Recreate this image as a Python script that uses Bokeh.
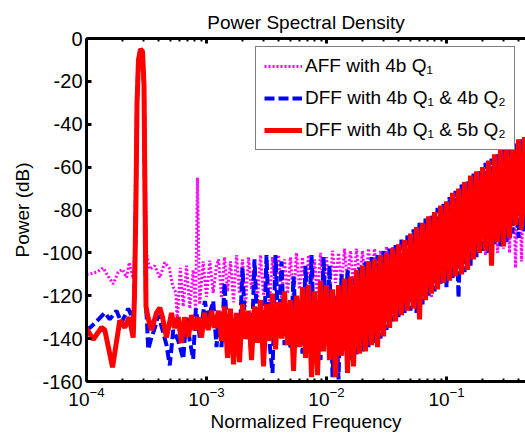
import numpy as np
from bokeh.plotting import figure
from bokeh.models import LogAxis, FixedTicker, Legend, LegendItem
from bokeh.embed import file_html
from bokeh.resources import INLINE

FONT = "Liberation Sans"

# ---------------- data ----------------
TITLE = "Power Spectral Density"
X_LABEL = "Normalized Frequency"
Y_LABEL = "Power (dB)"
Y_TICKS = [-160, -140, -120, -100, -80, -60, -40, -20, 0]
X_TICKS = [1e-4, 1e-3, 1e-2, 1e-1]
LABELS = ["AFF with 4b Q\u2081",
          "DFF with 4b Q\u2081 & 4b Q\u2082",
          "DFF with 4b Q\u2081 & 5b Q\u2082"]

# low-frequency part (individual points)
AFF_F_LOW = [1.000e-4, 1.101e-4, 1.212e-4, 1.377e-4, 1.517e-4, 1.669e-4, 1.837e-4, 1.995e-4,
             2.154e-4, 2.270e-4, 2.450e-4, 2.512e-4, 2.560e-4, 2.636e-4, 2.712e-4, 2.818e-4,
             2.929e-4, 3.014e-4, 3.090e-4, 3.160e-4, 3.370e-4, 3.710e-4, 4.080e-4, 4.490e-4,
             4.890e-4, 5.210e-4, 5.550e-4, 5.700e-4, 6.050e-4, 6.400e-4, 6.810e-4, 7.260e-4,
             7.740e-4, 8.100e-4, 8.410e-4, 8.750e-4, 9.390e-4, 1.000e-3, 1.065e-3, 1.137e-3,
             1.212e-3]
AFF_DB_LOW = [-110, -109.6, -109, -107, -111, -114.5, -109, -107.7,
              -111.5, -104.5, -112, -100, -60, -28, -10, -5,
              -6, -22, -60, -100, -107.7, -106, -111.5, -104.5,
              -107, -115, -118.7, -132, -107, -125, -106, -126,
              -108, -127, -65, -124, -104, -120.5, -103.6, -118.7,
              -106]

DFF4_F_LOW = [1.000e-4, 1.101e-4, 1.212e-4, 1.421e-4, 1.563e-4, 1.778e-4, 1.957e-4, 2.226e-4,
              2.450e-4, 2.512e-4, 2.585e-4, 2.636e-4, 2.712e-4, 2.818e-4, 2.929e-4, 3.014e-4,
              3.073e-4, 3.133e-4, 3.200e-4, 3.268e-4, 3.480e-4, 3.710e-4, 3.960e-4, 4.300e-4,
              4.640e-4, 4.940e-4, 5.280e-4, 5.810e-4, 6.400e-4, 6.810e-4, 7.260e-4, 7.740e-4,
              8.150e-4, 8.800e-4, 9.680e-4, 1.033e-3, 1.137e-3, 1.212e-3]
DFF4_DB_LOW = [-136, -134.3, -132, -128, -131, -127, -132.6, -126,
               -131, -118, -72, -30, -10, -5, -6, -22,
               -75, -125, -133.5, -145, -139.5, -135, -129, -136,
               -143, -152.5, -136, -141, -149.5, -129.6, -141, -149.5,
               -126, -139.5, -122.5, -131, -122.5, -144]

DFF5_F_LOW = [1.000e-4, 1.137e-4, 1.334e-4, 1.421e-4, 1.647e-4, 1.895e-4, 2.086e-4, 2.270e-4,
              2.450e-4, 2.512e-4, 2.585e-4, 2.636e-4, 2.712e-4, 2.818e-4, 2.929e-4, 3.014e-4,
              3.073e-4, 3.133e-4, 3.268e-4, 3.480e-4, 3.830e-4, 4.080e-4, 4.300e-4, 4.640e-4,
              5.110e-4, 5.410e-4, 5.810e-4, 6.190e-4, 6.560e-4, 7.080e-4, 7.500e-4, 7.990e-4,
              8.500e-4, 9.080e-4, 9.620e-4, 1.033e-3, 1.101e-3, 1.166e-3]
DFF5_DB_LOW = [-135.3, -140.4, -134.8, -136, -153.4, -131.5, -134.8, -130,
               -139.5, -120, -75, -30, -10, -5, -6, -22,
               -75, -125, -130.6, -136, -128, -125.6, -130, -139.5,
               -128, -135, -130, -142, -130, -139, -129, -136,
               -130, -139.5, -128, -136, -127, -135]

# dense part: peaks and troughs read on an even log-frequency sampling (1.26e-3 .. 0.5)
DENSE_LOG10_START, DENSE_LOG10_STOP, DENSE_N = -2.9, -0.3, 105

AFF_DB_DENSE = [-103, -121, -102, -118, -104, -123, -101, -119, -103, -125,
                -102, -117, -104, -122, -101, -120, -103, -124, -102, -118,
                -101, -121, -103, -119, -102, -123, -100, -117, -102, -122,
                -101, -119, -103, -121, -100, -116, -102, -120, -99, -114,
                -100, -115, -98, -113, -99, -116, -98, -112, -99, -115,
                -98, -113, -98, -114, -99, -112, -97, -113, -97, -111,
                -96, -112, -95, -110, -93, -112, -90, -110, -88, -114,
                -86, -121, -83, -111, -81, -108, -78, -107, -75, -106,
                -72, -104, -70, -103, -67, -101, -64, -100, -62, -101,
                -59, -99, -57, -100, -55, -98, -53, -100, -51, -107,
                -50, -104, -48, -96, -47]

DFF4_DB_DENSE = [-128, -144, -114, -140, -126, -146, -130, -142, -107, -141,
                 -128, -147, -103, -140, -127, -148, -101, -142, -156, -101,
                 -138, -104, -143, -126, -145, -111, -139, -127, -147, -106,
                 -141, -101, -146, -124, -150, -102, -140, -106, -158, -120,
                 -159, -110, -145, -108, -150, -112, -148, -107, -146, -104,
                 -144, -102, -142, -101, -140, -99, -136, -98, -132, -96,
                 -130, -93, -128, -91, -127, -89, -128, -86, -124, -84,
                 -120, -82, -118, -79, -115, -77, -116, -74, -112, -71,
                 -121, -68, -109, -66, -106, -63, -102, -61, -100, -58,
                 -100, -56, -96, -54, -97, -52, -95, -50, -91, -49,
                 -93, -47, -90, -46, -88]

DFF5_DB_DENSE = [-127, -141, -125, -149, -126, -152, -128, -151, -124, -140,
                 -127, -150, -125, -142, -122, -153, -124, -141, -119, -145,
                 -123, -140, -118, -143, -122, -155, -120, -144, -116, -149,
                 -115, -158, -118, -157, -113, -146, -115, -150, -117, -158,
                 -115, -148, -112, -156, -111, -153, -108, -147, -106, -146,
                 -104, -143, -103, -144, -101, -139, -100, -135, -98, -132,
                 -96, -129, -94, -127, -91, -126, -88, -131, -86, -122,
                 -83, -119, -81, -117, -78, -114, -76, -113, -72, -111,
                 -70, -110, -67, -108, -64, -103, -62, -100, -60, -99,
                 -57, -106, -54, -95, -52, -97, -50, -93, -49, -87,
                 -47, -89, -46, -88, -45]

F_DENSE = list(10 ** np.linspace(DENSE_LOG10_START, DENSE_LOG10_STOP, DENSE_N))

aff_f = AFF_F_LOW + F_DENSE
aff_db = AFF_DB_LOW + AFF_DB_DENSE
dff4_f = DFF4_F_LOW + F_DENSE
dff4_db = DFF4_DB_LOW + DFF4_DB_DENSE
dff5_f = DFF5_F_LOW + F_DENSE
dff5_db = DFF5_DB_LOW + DFF5_DB_DENSE

# ---------------- figure ----------------
p = figure(width=525, height=436, x_axis_type="log",
           x_range=(1e-4, 0.455), y_range=(-160, 0),
           output_backend="svg", toolbar_location=None,
           min_border_left=86, min_border_right=0,
           min_border_top=38, min_border_bottom=55,
           title=TITLE)
p.background_fill_color = "white"
p.border_fill_color = "white"
p.outline_line_color = None
p.xgrid.visible = False
p.ygrid.visible = False

p.title.text_font = FONT
p.title.text_font_size = "19px"
p.title.text_font_style = "normal"
p.title.text_color = "black"
p.title.align = "center"
p.title.standoff = 11
p.title.offset = 0

r_aff = p.line(aff_f, aff_db, line_color="#FF00FF", line_width=3, line_dash="2 2")
r_d4 = p.line(dff4_f, dff4_db, line_color="#0000FF", line_width=4, line_dash="10 4")
r_d5 = p.line(dff5_f, dff5_db, line_color="#FF0000", line_width=5)

MINOR = [m * 10 ** e for e in range(-4, 0) for m in range(2, 10)]

for ax in (p.xaxis[0], p.yaxis[0]):
    ax.axis_line_width = 3
    ax.axis_line_color = "black"
    ax.major_tick_in = 5
    ax.major_tick_out = 0
    ax.major_tick_line_width = 3
    ax.minor_tick_in = 3
    ax.minor_tick_out = 0
    ax.minor_tick_line_width = 2
    ax.major_label_text_font = FONT
    ax.major_label_text_font_size = "19px"
    ax.major_label_text_color = "black"
    ax.axis_label_text_font = FONT
    ax.axis_label_text_font_size = "19px"
    ax.axis_label_text_font_style = "normal"
    ax.axis_label_text_color = "black"

p.yaxis.major_label_text_font_size = "20px"
p.xaxis.axis_label = X_LABEL
p.yaxis.axis_label = Y_LABEL
p.xaxis.ticker = FixedTicker(ticks=X_TICKS, minor_ticks=MINOR)
p.yaxis.ticker = FixedTicker(ticks=Y_TICKS)
p.yaxis.major_label_overrides = {t: str(t) for t in Y_TICKS}
p.yaxis.minor_tick_line_color = None
p.xaxis.major_label_standoff = 5
p.xaxis.axis_label_standoff = 2
p.yaxis.major_label_standoff = 4
p.yaxis.axis_label_standoff = 6

top = LogAxis(ticker=FixedTicker(ticks=X_TICKS, minor_ticks=MINOR),
              axis_line_width=3, major_tick_in=5, major_tick_out=0, major_tick_line_width=3,
              minor_tick_in=3, minor_tick_out=0, minor_tick_line_width=2,
              major_label_text_font_size="1px", major_label_text_alpha=0, major_label_standoff=0)
p.add_layout(top, "above")

legend = Legend(items=[LegendItem(label=LABELS[0], renderers=[r_aff]),
                       LegendItem(label=LABELS[1], renderers=[r_d4]),
                       LegendItem(label=LABELS[2], renderers=[r_d5])],
                location=(169, 231))
legend.label_text_font = FONT
legend.label_text_font_size = "19px"
legend.label_text_color = "black"
legend.border_line_color = "black"
legend.border_line_width = 1.5
legend.background_fill_color = "white"
legend.background_fill_alpha = 1.0
legend.glyph_width = 38
legend.glyph_height = 20
legend.label_height = 20
legend.label_standoff = 3
legend.spacing = 10
legend.padding = 8
legend.margin = 0
p.add_layout(legend)

open("out.html", "w").write(file_html(p, INLINE))
